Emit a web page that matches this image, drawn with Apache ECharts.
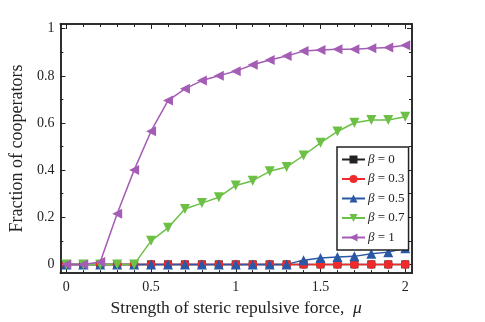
<!DOCTYPE html>
<html>
<head>
<meta charset="utf-8">
<script src="https://cdn.jsdelivr.net/npm/echarts@6/dist/echarts.min.js"></script>
<style>
  html, body { margin: 0; padding: 0; background: #fff; }
  #main { width: 485px; height: 322px; }
</style>
</head>
<body>
<div id="main"></div>
<script>
// mu values 0..2 step 0.1
const mu = [0, 0.1, 0.2, 0.3, 0.4, 0.5, 0.6, 0.7, 0.8, 0.9, 1.0,
            1.1, 1.2, 1.3, 1.4, 1.5, 1.6, 1.7, 1.8, 1.9, 2.0];
const beta0  = [0, 0, 0, 0, 0, 0, 0, 0, 0, 0, 0, 0, 0, 0, 0, 0, 0, 0, 0, 0, 0];
const beta03 = [0, 0, 0, 0, 0, 0, 0, 0, 0, 0, 0, 0, 0, 0, 0, 0, 0, 0, 0, 0, 0];
const beta05 = [0, 0, 0, 0, 0, 0, 0, 0, 0, 0, 0, 0, 0, 0, 0.018, 0.027, 0.031, 0.034, 0.045, 0.052, 0.068];
const beta07 = [0, 0, 0, 0, 0, 0.10, 0.155, 0.235, 0.26, 0.285, 0.335, 0.355, 0.395, 0.413, 0.462, 0.516, 0.564, 0.601, 0.613, 0.613, 0.626];
const beta1  = [0, 0, 0.01, 0.215, 0.40, 0.565, 0.695, 0.745, 0.78, 0.80, 0.82, 0.847, 0.867, 0.884, 0.905, 0.91, 0.913, 0.913, 0.917, 0.92, 0.93];

const xTicks = [0, 0.5, 1, 1.5, 2];
const xMinor = [0.1, 0.2, 0.3, 0.4, 0.6, 0.7, 0.8, 0.9, 1.1, 1.2, 1.3, 1.4, 1.6, 1.7, 1.8, 1.9];
const yTicks = [0, 0.2, 0.4, 0.6, 0.8, 1];
const yMinor = [0.1, 0.3, 0.5, 0.7, 0.9];

const font = 'Liberation Serif';
const ink = '#222';

function pairs(ys) {
  return mu.map((x, i) => [x, ys[i]]);
}

function mkSeries(name, ys, color, symbol, rot, size) {
  return {
    name: name,
    type: 'line',
    data: pairs(ys),
    symbol: symbol,
    symbolRotate: rot,
    symbolSize: size,
    lineStyle: { color: color, width: 1.5 },
    itemStyle: { color: color },
    xAxisIndex: 0,
    yAxisIndex: 0,
    animation: false
  };
}

// major/minor tick axes stacked on each side
function xAx(pos, labels, ticks, len, show) {
  return {
    type: 'value', position: pos, min: -0.035, max: 2.04,
    name: show ? 'Strength of steric repulsive force,  {i|μ}' : '',
    nameLocation: 'middle', nameGap: 22,
    nameTextStyle: { fontFamily: font, fontSize: 17.5, color: ink,
      rich: { i: { fontFamily: font, fontStyle: 'italic', fontSize: 17.5, color: ink } } },
    axisLine: { show: true, onZero: false, lineStyle: { color: ink, width: 1.5 } },
    axisTick: { show: true, inside: true, length: len, customValues: ticks, lineStyle: { color: ink, width: 1 } },
    axisLabel: { show: labels, customValues: xTicks, fontFamily: font, fontSize: 14, color: ink, margin: 7 },
    splitLine: { show: false }
  };
}
function yAx(pos, labels, ticks, len, show) {
  return {
    type: 'value', position: pos, min: -0.037, max: 1.02,
    name: show ? 'Fraction of cooperators' : '',
    nameLocation: 'middle', nameGap: 21,
    nameTextStyle: { fontFamily: font, fontSize: 18, color: ink },
    axisLine: { show: true, onZero: false, lineStyle: { color: ink, width: 1.5 } },
    axisTick: { show: true, inside: true, length: len, customValues: ticks, lineStyle: { color: ink, width: 1 } },
    axisLabel: { show: labels, customValues: yTicks, fontFamily: font, fontSize: 14, color: ink, margin: 6 },
    splitLine: { show: false }
  };
}

const chart = echarts.init(document.getElementById('main'));
chart.setOption({
  backgroundColor: '#fff',
  animation: false,
  grid: { left: 54, right: 73, top: 24, bottom: 40 },
  xAxis: [
    xAx('bottom', true, xTicks, 5, true),
    xAx('bottom', false, xMinor, 3, false),
    xAx('top', false, xTicks, 5, false),
    xAx('top', false, xMinor, 3, false)
  ],
  yAxis: [
    yAx('left', true, yTicks, 5, true),
    yAx('left', false, yMinor, 3, false),
    yAx('right', false, yTicks, 5, false),
    yAx('right', false, yMinor, 3, false)
  ],
  legend: {
    orient: 'vertical',
    left: 337, top: 147,
    padding: [6, 4, 6, 4],
    itemGap: 6.5,
    itemWidth: 23, itemHeight: 10,
    borderColor: ink, borderWidth: 1.5,
    backgroundColor: '#fff',
    formatter: function (n) { return '{i|β} ' + n.slice(2); },
    textStyle: { fontFamily: font, fontSize: 13, color: ink, padding: [0, 0, 0, -2],
      rich: { i: { fontFamily: font, fontStyle: 'italic', fontSize: 13, color: ink } } },
    data: ['β = 0', 'β = 0.3', 'β = 0.5', 'β = 0.7', 'β = 1']
  },
  series: [
    mkSeries('β = 0', beta0, '#222222', 'rect', 0, 8),
    mkSeries('β = 0.3', beta03, '#ee2a2a', 'circle', 0, 9),
    mkSeries('β = 0.5', beta05, '#2a58a6', 'triangle', 0, 10),
    mkSeries('β = 0.7', beta07, '#6cc045', 'triangle', 180, 10),
    mkSeries('β = 1', beta1, '#a45cb4', 'triangle', 90, 10)
  ]
});
</script>
</body>
</html>
